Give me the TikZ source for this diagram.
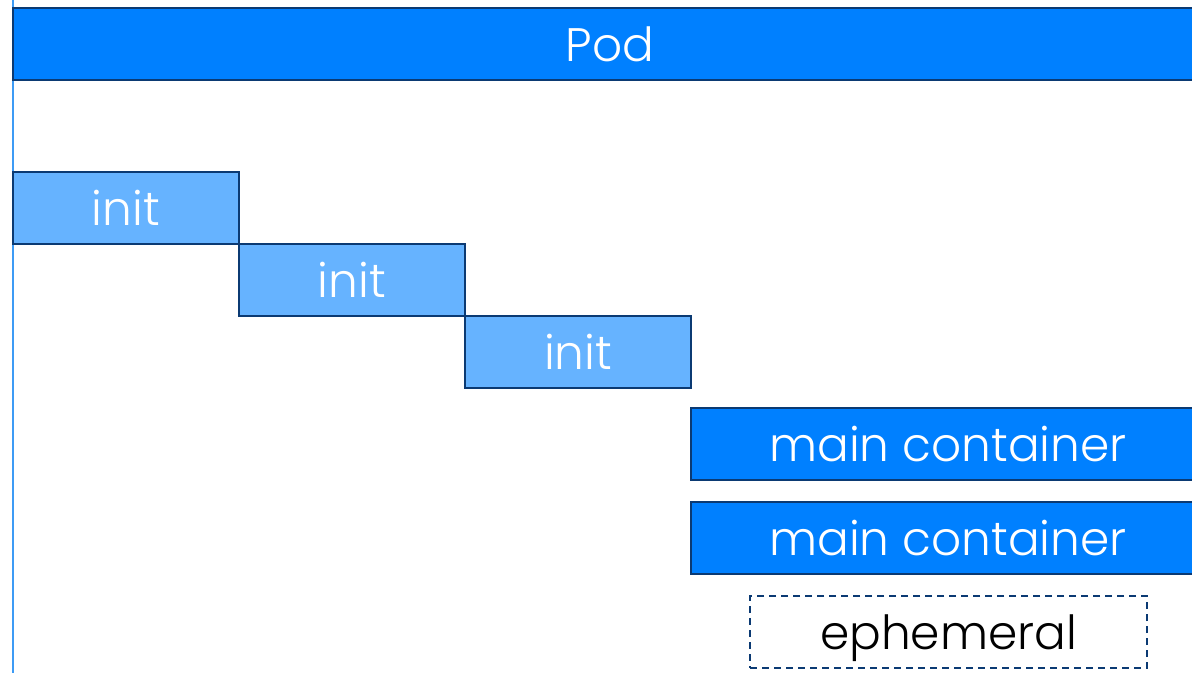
\documentclass[tikz,border=0pt]{standalone}
\usepackage{fontspec}
\setmainfont{Poppins}[UprightFont=* Light]
\usepackage{tikz}
\usetikzlibrary{positioning}
\definecolor{podblue}{HTML}{0080FF}
\definecolor{initblue}{HTML}{66B3FF}
\definecolor{edgeblue}{HTML}{0B3A73}
\definecolor{lineblue}{HTML}{3D9BF5}
\tikzset{
  boxtext/.style={font=\fontsize{47}{50}\selectfont},
  podbox/.style={draw=edgeblue, line width=2pt, fill=podblue, text=white, boxtext, outer sep=0pt},
  initbox/.style={draw=edgeblue, line width=2pt, fill=initblue, text=white, boxtext, outer sep=0pt,
    minimum width=226pt, minimum height=72pt, inner sep=0pt},
  mainbox/.style={podbox, minimum width=514pt, minimum height=72pt, inner sep=0pt},
  ephbox/.style={draw=edgeblue, line width=2pt, dash pattern=on 7pt off 5pt, boxtext, outer sep=0pt,
    minimum width=397pt, minimum height=72pt, inner sep=0pt, text depth=0pt}
}
\begin{document}
\begin{tikzpicture}[x=1pt,y=-1pt]
\useasboundingbox (0,0) rectangle (1192,673);
\clip (0,0) rectangle (1192,673);
\draw[lineblue, line width=1.5pt] (13,0) -- (13,673);
\node[podbox, minimum width=1194pt, minimum height=72pt, inner sep=0pt, anchor=north west] (pod) at (13,8) {Pod};
% init containers run one after another
\node[initbox, anchor=north west] (init1) at (13,172) {init};
\node[initbox, anchor=north west] (init2) at (init1.south east) {init};
\node[initbox, anchor=north west] (init3) at (init2.south east) {init};
% main containers
\node[mainbox, anchor=north west] (main1) at (691,408) {main container};
\node[mainbox, below=22pt of main1] (main2) {main container};
\node[ephbox, anchor=north west] (eph) at (750,596) {ephemeral};
\end{tikzpicture}
\end{document}
